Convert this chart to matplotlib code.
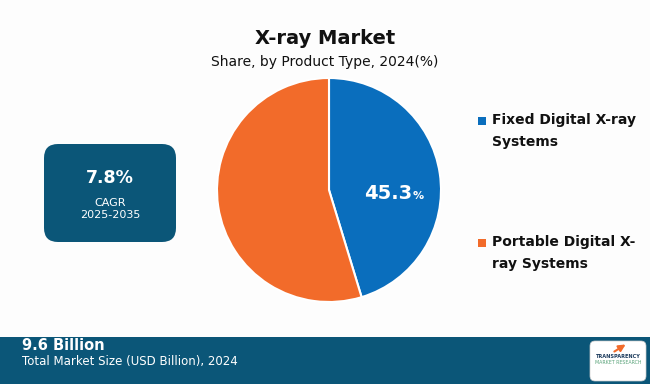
import matplotlib
matplotlib.use("Agg")
import matplotlib.pyplot as plt
from matplotlib.patches import FancyBboxPatch, Rectangle

categories = ["Fixed Digital X-ray\nSystems", "Portable Digital X-\nray Systems"]
shares = [45.3, 54.7]
colors = ["#0a6ebd", "#f26b2a"]
title = "X-ray Market"
subtitle = "Share, by Product Type, 2024(%)"
cagr_value = "7.8%"
cagr_label = "CAGR\n2025-2035"
market_size = "9.6 Billion"
market_label = "Total Market Size (USD Billion), 2024"

W, H = 650, 384
fig = plt.figure(figsize=(6.5, 3.84), dpi=100)
fig.patch.set_facecolor("#fdfdfd")
bg = fig.add_axes([0, 0, 1, 1])
bg.set_xlim(0, W)
bg.set_ylim(H, 0)
bg.axis("off")

navy = "#0b5678"
# footer band
bg.add_patch(Rectangle((0, 337), W, 47, color=navy, lw=0))
bg.text(22, 345, market_size, color="white", fontsize=10.5, fontweight="bold", va="center", ha="left")
bg.text(22, 361, market_label, color="white", fontsize=8.5, va="center", ha="left")
# logo
bg.add_patch(FancyBboxPatch((590, 341), 56, 40, boxstyle="round,pad=0,rounding_size=5",
                            fc="white", ec="#cccccc", lw=0.5))
bg.text(618, 356, "TRANSPARENCY", color="#1b3a5c", fontsize=3.6, fontweight="bold", ha="center", va="center")
bg.text(618, 362, "MARKET RESEARCH", color="#5aa37a", fontsize=3.4, ha="center", va="center")
bg.annotate("", xy=(628, 343), xytext=(612, 353),
            arrowprops=dict(arrowstyle="-|>", color="#f26b2a", lw=1.5))

# CAGR box
bg.add_patch(FancyBboxPatch((44, 144), 132, 98, boxstyle="round,pad=0,rounding_size=14",
                            fc=navy, ec="none"))
bg.text(110, 178, cagr_value, color="white", fontsize=12.5, fontweight="bold", ha="center", va="center")
bg.text(110, 209, cagr_label, color="white", fontsize=8, ha="center", va="center", linespacing=1.3)

# titles
bg.text(325, 38, title, fontsize=14, fontweight="bold", ha="center", va="center", color="#111111")
bg.text(325, 62, subtitle, fontsize=10, ha="center", va="center", color="#111111")

# legend
leg_y = [121, 243]
for c, lab, y in zip(colors, categories, leg_y):
    bg.add_patch(Rectangle((478, y - 4), 8, 8, color=c, lw=0))
    bg.text(492, y - 8, lab, fontsize=10, fontweight="bold", ha="left", va="top",
            color="#111111", linespacing=1.7)

# pie
cx, cy, r = 329, 190, 112
pax = fig.add_axes([(cx - r) / W, (H - cy - r) / H, 2 * r / W, 2 * r / H])
pax.pie(shares, colors=colors, startangle=90, counterclock=False,
        wedgeprops=dict(edgecolor="white", linewidth=1.5))
pax.set_xlim(-1, 1)
pax.set_ylim(-1, 1)
pax.set_aspect("equal")
pax.text(0.74, -0.03, "45.3", color="white", fontsize=14, fontweight="bold", ha="right", va="center")
pax.text(0.75, -0.05, "%", color="white", fontsize=8, fontweight="bold", ha="left", va="center")

fig.savefig("out.png", dpi=100, facecolor=fig.get_facecolor())
